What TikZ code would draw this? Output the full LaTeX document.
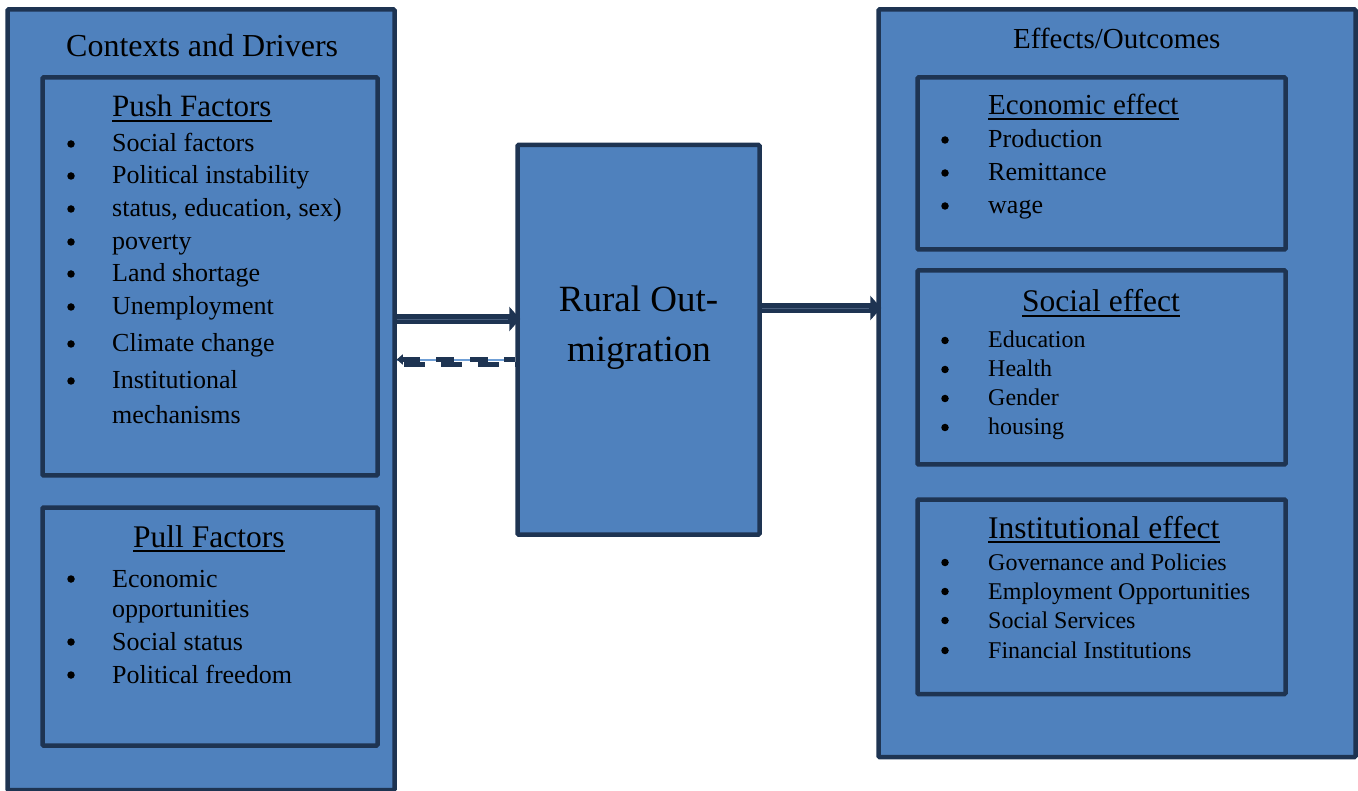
\documentclass[tikz,border=0pt]{standalone}
\usepackage{fontspec}
\setmainfont{Liberation Serif}
\usetikzlibrary{arrows.meta}
\definecolor{fillblue}{HTML}{4F81BD}
\definecolor{edge}{HTML}{1E3452}
\definecolor{stripe}{HTML}{4A5F7E}
\definecolor{lightln}{HTML}{6F9FD6}
\newcommand\fs[1]{\fontsize{#1}{#1}\selectfont}
\newcommand\rbox[5]{\node[panel,minimum width={#4-#2},minimum height={#5-#3}] (#1) at ({(#2+#4)/2},{(#3+#5)/2}) {};}
% bullet: name, x, baseline y, raise
\newcommand\bul[4]{\node[bulletdot] (#1) at (#2,{#3-#4}) {};}
% item text: name, x, baseline y, size, text
\newcommand\itm[5]{\node[anchor=base west,inner sep=0pt,font=\fs{#4}] (#1) at (#2,#3) {#5};}
\newcommand\ulin[1]{\draw[line width=1.5pt,black] ([yshift=-4pt]#1.base west) -- ([yshift=-4pt]#1.base east);}
\begin{document}
\begin{tikzpicture}[x=1pt,y=-1pt,
  panel/.style={draw=edge,fill=fillblue,line width=4.5pt,rounded corners=1pt,inner sep=0pt},
  bulletdot/.style={circle,fill=black,inner sep=0pt,minimum size=7.5pt},
  solidarr/.style={draw=edge,line width=9.5pt,-{Triangle[length=11pt,width=24pt]},shorten >=-5pt},
  stripeln/.style={draw=stripe,line width=0.8pt},
  dashrow/.style={draw=edge,line width=5pt}]
\useasboundingbox (0,0) rectangle (1358,791);
% boxes
\rbox{ctx}{7.5}{9.5}{394.5}{790}
\rbox{push}{42.5}{77.5}{377.5}{475.5}
\rbox{pull}{42.5}{507.5}{377.5}{745.5}
\rbox{mig}{517.5}{145}{759.5}{534.5}
\rbox{eff}{878.5}{9.5}{1355.5}{757}
\rbox{econ}{917.5}{77.5}{1285.5}{249.5}
\rbox{soc}{917.5}{270.5}{1285.5}{464.5}
\rbox{inst}{917.5}{499.5}{1285.5}{694}

% headings
\itm{hctx}{66}{57}{32}{Contexts and Drivers}
\itm{hpush}{112}{117}{31}{Push Factors}\ulin{hpush}
\itm{hpull}{133}{547}{31.5}{Pull Factors}\ulin{hpull}
\itm{heff}{1013}{49}{29}{Effects/Outcomes}
\itm{hecon}{988}{115}{29}{Economic effect}\ulin{hecon}
\itm{hsoc}{1022}{312}{31.5}{Social effect}\ulin{hsoc}
\itm{hinst}{988}{538}{31.5}{Institutional effect}\ulin{hinst}
\node[anchor=base,inner sep=0pt,font=\fs{37}] (mig1) at (638.5,312) {Rural Out-};
\node[anchor=base,inner sep=0pt,font=\fs{37}] (mig2) at (639,362) {migration};

% push items
\bul{pb1}{71}{152}{8}\itm{pi1}{112}{152}{26}{Social factors}
\bul{pb2}{71}{184}{8}\itm{pi2}{112}{184}{26}{Political instability}
\bul{pb3}{71}{217}{8}\itm{pi3}{112}{217}{26}{status, education, sex)}
\bul{pb4}{71}{250}{8}\itm{pi4}{112}{250}{26}{poverty}
\bul{pb5}{71}{282}{8}\itm{pi5}{112}{282}{26}{Land shortage}
\bul{pb6}{71}{315}{8}\itm{pi6}{112}{315}{26}{Unemployment}
\bul{pb7}{71}{352}{8}\itm{pi7}{112}{352}{26}{Climate change}
\bul{pb8}{71}{389}{8}\itm{pi8}{112}{389}{26}{Institutional}
\itm{pi9}{112}{424}{26}{mechanisms}
% pull items
\bul{qb1}{71}{587}{8}\itm{qi1}{112}{587}{26}{Economic}
\itm{qi2}{112}{617}{26}{opportunities}
\bul{qb3}{71}{650}{8}\itm{qi3}{112}{650}{26}{Social status}
\bul{qb4}{71}{683}{8}\itm{qi4}{112}{683}{26}{Political freedom}
% economic items
\bul{eb1}{945}{148}{8}\itm{ei1}{988}{148}{26}{Production}
\bul{eb2}{945}{181}{8}\itm{ei2}{988}{181}{26}{Remittance}
\bul{eb3}{945}{214}{8}\itm{ei3}{988}{214}{26}{wage}
% social items
\bul{sb1}{945}{348}{7.5}\itm{si1}{988}{348}{24}{Education}
\bul{sb2}{945}{377}{7.5}\itm{si2}{988}{377}{24}{Health}
\bul{sb3}{945}{406}{7.5}\itm{si3}{988}{406}{24}{Gender}
\bul{sb4}{945}{435}{7.5}\itm{si4}{988}{435}{24}{housing}
% institutional items
\bul{ib1}{945}{570}{7.5}\itm{ii1}{988}{570}{24}{Governance and Policies}
\bul{ib2}{945}{599}{7.5}\itm{ii2}{988}{599}{24}{Employment Opportunities}
\bul{ib3}{945}{628}{7.5}\itm{ii3}{988}{628}{24}{Social Services}
\bul{ib4}{945}{658}{7.5}\itm{ii4}{988}{658}{24}{Financial Institutions}

% connectors
\draw[solidarr] (ctx.east |- 0,319) -- (mig.west |- 0,319);
\draw[stripeln] (ctx.east |- 0,319) -- ([xshift=-7pt]mig.west |- 0,319);
\draw[solidarr] (mig.east |- 0,308) -- (eff.west |- 0,308);
\draw[stripeln] (mig.east |- 0,308) -- ([xshift=-7pt]eff.west |- 0,308);
\draw[lightln,line width=1.5pt] (ctx.east |- 0,360) -- (mig.west |- 0,360);
\draw[dashrow,dash pattern=on 18pt off 16pt,{Triangle[length=6pt,width=10pt]}-] (ctx.east |- 0,359.5) -- (mig.west |- 0,359.5);
\draw[dashrow,dash pattern=on 21pt off 16pt,dash phase=29.75pt] (ctx.east |- 0,364.5) -- (mig.west |- 0,364.5);
\end{tikzpicture}
\end{document}
